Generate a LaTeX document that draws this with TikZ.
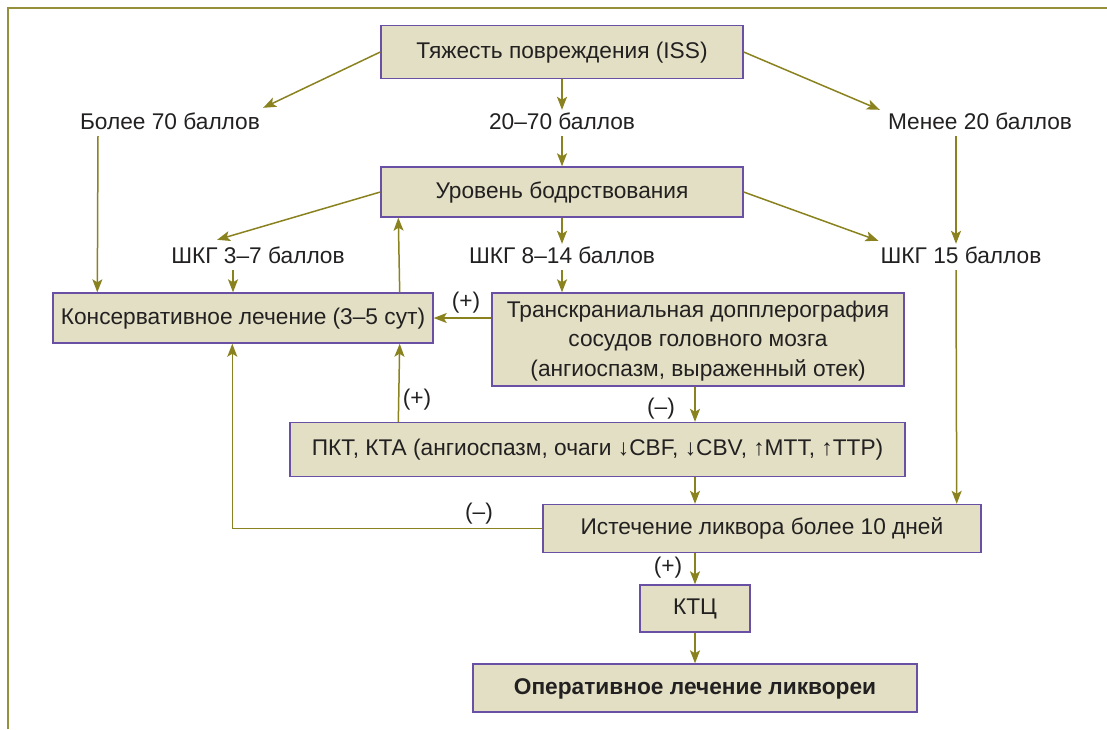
\documentclass[tikz,border=0pt]{standalone}
\usepackage{fontspec}
\setmainfont{Liberation Sans}
\usetikzlibrary{arrows.meta,calc}
\definecolor{olv}{RGB}{138,130,30}
\definecolor{framec}{RGB}{150,144,60}
\definecolor{boxf}{RGB}{227,223,196}
\definecolor{boxb}{RGB}{105,80,165}
\definecolor{txt}{RGB}{34,32,32}
\newcommand\myfs{\fontsize{22.7}{29.5}\selectfont}
\begin{document}
\begin{tikzpicture}[x=1pt,y=-1pt,
  box/.style={draw=boxb, fill=boxf, line width=1.4pt, inner sep=0pt, font=\myfs, text=txt, align=center},
  one/.style={text height=16pt, text depth=4pt},
  lbl/.style={inner sep=0pt, font=\myfs, text=txt, text height=16pt, text depth=4pt, inner ysep=3pt},
  arr/.style={draw=olv, line width=1.5pt, -{Stealth[length=13pt,width=10pt,inset=3pt]}}]
\useasboundingbox (0,0) rectangle (1107,729);
\draw[framec, line width=2pt] (8,729) -- (8,8) -- (1107,8);

\node[box, one, minimum width=362pt, minimum height=53pt] (iss) at (562,52) {Тяжесть повреждения (ISS)};
\node[lbl] (b70) at (170,123) {Более 70 баллов};
\node[lbl] (t2070) at (562,123) {20–70 баллов};
\node[lbl] (m20) at (980,123) {Менее 20 баллов};
\node[box, one, minimum width=362pt, minimum height=50pt] (lev) at (562,192) {Уровень бодрствования};
\node[lbl] (g37) at (258,257) {ШКГ 3–7 баллов};
\node[lbl] (g814) at (562,257) {ШКГ 8–14 баллов};
\node[lbl] (g15) at (961,257) {ШКГ 15 баллов};
\node[box, one, minimum width=380pt, minimum height=50pt] (kons) at (243,318) {Консервативное лечение (3–5 сут)};
\node[box, minimum width=412pt, minimum height=93pt] (trans) at (698,339.5) {\rule{0pt}{19pt}Транскраниальная допплерография\\сосудов головного мозга\\(ангиоспазм, выраженный отек)};
\node[box, one, minimum width=615pt, minimum height=54pt] (pkt) at (597.5,449.5) {ПКТ, КТА (ангиоспазм, очаги ↓CBF, ↓CBV, ↑MTT, ↑TTP)};
\node[box, one, minimum width=438pt, minimum height=48pt] (ist) at (762,528.5) {Истечение ликвора более 10 дней};
\node[box, one, minimum width=110pt, minimum height=47pt] (ktc) at (695,608.5) {КТЦ};
\node[box, one, minimum width=444pt, minimum height=48pt, font=\myfs\bfseries] (oper) at (695,688) {Оперативное лечение ликвореи};

\node[lbl] (p1) at (466,302) {(+)};
\node[lbl] (n1) at (661,408) {(–)};
\node[lbl] (p2) at (417,399) {(+)};
\node[lbl] (n2) at (479,513) {(–)};
\node[lbl] (p3) at (668,567) {(+)};

\draw[arr] (iss.west) -- ($(b70.north east)+(3,-2)$);
\draw[arr] (iss.south) -- (t2070.north);
\draw[arr] (iss.east) -- ($(m20.north west)+(-8,0)$);
\draw[arr] (t2070.south) -- (lev.north);
\draw[arr] ($(b70.south)+(-72,0)$) -- ($(kons.north west)+(45,0)$);
\draw[arr] ($(m20.south)+(-24,0)$) -- ($(g15.north)+(-5,0)$);
\draw[arr] (lev.west) -- ($(g37.north west)+(46,-4)$);
\draw[arr] (lev.east) -- ($(g15.north west)+(-2,-3)$);
\draw[arr] (lev.south) -- (g814.north);
\draw[arr] (g814.south) -- (trans.north -| g814.south);
\draw[arr] ($(g37.south)+(-25,0)$) -- ($(kons.north)+(-10,0)$);
\draw[arr] ($(kons.north east)+(-34,0)$) -- ($(lev.south west)+(18,0)$);
\draw[arr] (trans.west |- kons.east) -- (kons.east);
\draw[arr] (trans.south -| ktc.center) -- (pkt.north -| ktc.center);
\draw[arr] ($(pkt.north west)+(109,0)$) -- ($(kons.south east)+(-34,0)$);
\draw[arr] (pkt.south -| ktc.center) -- (ist.north -| ktc.center);
\draw[arr] ($(g15.south)+(-5,0)$) -- ($(ist.north east)+(-25,0)$);
\draw[arr] (ist.west) -| ($(kons.south west)+(180,0)$);
\draw[arr] (ist.south -| ktc.center) -- (ktc.north);
\draw[arr] (ktc.south) -- (oper.north);
\end{tikzpicture}
\end{document}
